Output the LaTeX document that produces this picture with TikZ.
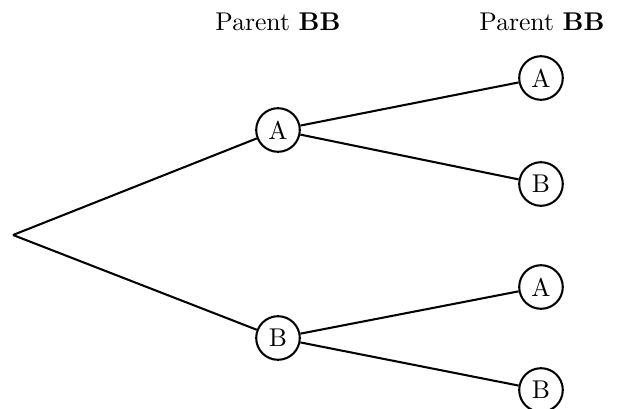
\documentclass[tikz,border=0pt]{standalone}
\usepackage{amsmath}
\usepackage{tikz}

\begin{document}
\begin{tikzpicture}[x=0.0137cm, y=-0.0137cm]
\useasboundingbox (0, 0) rectangle (617, 409) ;
\node(root) at (13, 235) [inner sep = 0pt] {} ; 
\node(head1) at (278, 22) [] {Parent \textbf{BB}} ; 
\node(head2) at (542, 22) [] {Parent \textbf{BB}} ; 
\node(a) at (278, 130) [draw, circle, line width = 0.8pt, minimum size = 17pt, inner sep = 0pt] {A} ; 
\node(b) at (278, 338) [draw, circle, line width = 0.8pt, minimum size = 17pt, inner sep = 0pt] {B} ; 
\node(aa) at (541, 78) [draw, circle, line width = 0.8pt, minimum size = 17pt, inner sep = 0pt] {A} ; 
\node(ab) at (541, 184) [draw, circle, line width = 0.8pt, minimum size = 17pt, inner sep = 0pt] {B} ; 
\node(ba) at (541, 287) [draw, circle, line width = 0.8pt, minimum size = 17pt, inner sep = 0pt] {A} ; 
\node(bb) at (541, 390) [draw, circle, line width = 0.8pt, minimum size = 17pt, inner sep = 0pt] {B} ; 
\draw[line width = 0.8pt] (root.center) -- (a) ; 
\draw[line width = 0.8pt] (root.center) -- (b) ; 
\draw[line width = 0.8pt] (a) -- (aa) ; 
\draw[line width = 0.8pt] (a) -- (ab) ; 
\draw[line width = 0.8pt] (b) -- (ba) ; 
\draw[line width = 0.8pt] (b) -- (bb) ; 
\end{tikzpicture}
\end{document}
